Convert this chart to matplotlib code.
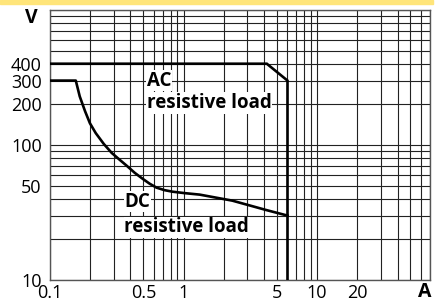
import matplotlib
matplotlib.use("Agg")
import matplotlib.pyplot as plt
from matplotlib.patches import Rectangle

plt.rcParams['font.family'] = ['Open Sans', 'DejaVu Sans']

# AC resistive load limit (current A, voltage V)
ac_i = [0.1, 4.2, 6.0, 6.0]
ac_v = [400, 400, 300, 10]

# DC resistive load limit
dc_i = [0.1, 0.156, 0.167, 0.183, 0.199, 0.220, 0.253, 0.290, 0.333, 0.376, 0.431,
        0.494, 0.557, 0.628, 0.720, 0.826, 1.02, 1.32, 2.32, 4.15, 6.0]
dc_v = [300, 300, 229, 178, 145, 122.5, 101.7, 87.3, 77.6, 70.1, 62.2,
        56.2, 51.7, 48.3, 46.3, 45.1, 44.0, 42.9, 38.7, 33, 30]

x_ticks = [0.1, 0.5, 1, 5, 10, 20]
x_labels = ['0.1', '0.5', '1', '5', '10', '20']
y_ticks = [10, 50, 100, 200, 300, 400]
y_labels = ['10', '50', '100', '200', '300', '400']

x_grid = [m * 10.0 ** e for e in (-1, 0, 1) for m in range(1, 10)] + [70]
y_grid = [m * 10.0 ** e for e in (1, 2) for m in range(1, 10)] + [1000]

fig = plt.figure(figsize=(4.43, 3.04), dpi=100)
# yellow frame strip along the top
fig.patches.append(Rectangle((0, 0.988), 0.978, 0.012, transform=fig.transFigure,
                             color='#ffe57a', zorder=0))

ax = fig.add_axes([50 / 443, 24 / 304, 380 / 443, 270 / 304])
ax.set_xscale('log')
ax.set_yscale('log')
ax.set_xlim(0.1, 70)
ax.set_ylim(10, 1000)

for gx in x_grid:
    ax.axvline(gx, color='#222222', lw=0.8, zorder=1)
for gy in y_grid:
    ax.axhline(gy, color='#222222', lw=0.8, zorder=1)

ax.plot(ac_i, ac_v, color='black', lw=1.9, zorder=3, solid_joinstyle='miter')
ax.plot(dc_i, dc_v, color='black', lw=1.9, zorder=3, solid_joinstyle='round')

box = dict(facecolor='white', edgecolor='none', pad=0.5)
lbl = dict(fontsize=13.5, fontweight='bold', va='center', ha='left', bbox=box, zorder=2)
ax.text(0.53, 300, 'AC', **lbl)
ax.text(0.53, 205, 'resistive load', **lbl)
ax.text(0.36, 38, 'DC', **lbl)
ax.text(0.36, 24.5, 'resistive load', **lbl)

ax.set_xticks(x_ticks)
ax.set_xticklabels(x_labels)
ax.set_yticks(y_ticks)
ax.set_yticklabels(y_labels)
ax.minorticks_off()
ax.tick_params(length=0, labelsize=13, pad=3)
ax.tick_params(axis='y', pad=6)

ax.text(-0.05, 0.97, 'V', transform=ax.transAxes, fontsize=14, fontweight='bold', ha='center', va='center')
ax.text(0.985, -0.045, 'A', transform=ax.transAxes, fontsize=14, fontweight='bold', ha='center', va='center')

for s in ax.spines.values():
    s.set_color('#555555')
    s.set_linewidth(1.0)

fig.savefig('out.png', dpi=100)
